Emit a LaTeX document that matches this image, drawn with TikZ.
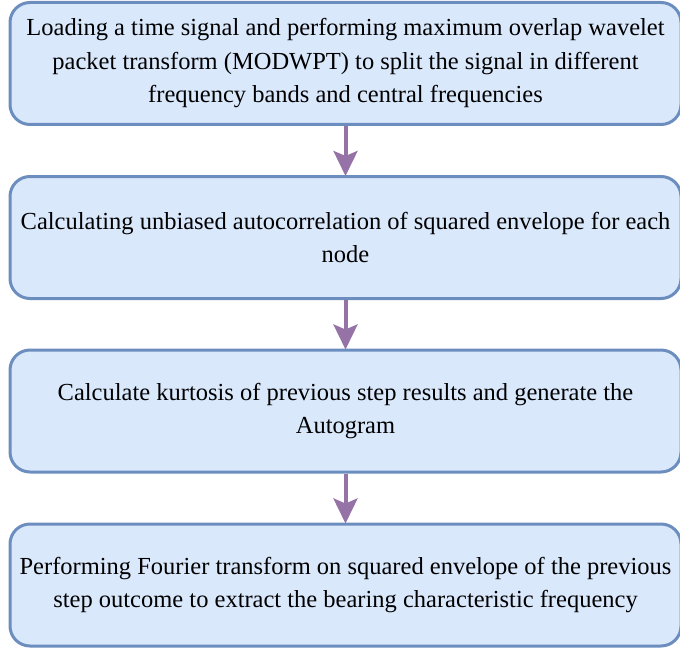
\documentclass[tikz,border=0pt]{standalone}
\usepackage{fontspec}
\setmainfont{Liberation Serif}
\usetikzlibrary{arrows.meta}
\definecolor{boxfill}{HTML}{DAE8FC}
\definecolor{boxline}{HTML}{6C8EBF}
\definecolor{arrowcol}{HTML}{9673A6}
\tikzset{
  stepbox/.style={draw=boxline, fill=boxfill, line width=3pt, rounded corners=20pt,
    minimum width=671pt, minimum height=122pt, align=center, inner sep=0pt,
    font=\fontsize{24.5}{33.5}\selectfont},
  flowarrow/.style={draw=arrowcol, line width=4pt, -{Stealth[length=25pt,width=24pt,inset=5pt]}, shorten >=-1pt}
}
\begin{document}
\begin{tikzpicture}[x=1pt,y=1pt]
\useasboundingbox (0,0) rectangle (680,-650);
\node[stepbox] (b1) at (345.5,-63.5) {Loading a time signal and performing maximum overlap wavelet\\packet transform (MODWPT) to split the signal in different\\frequency bands and central frequencies};
\node[stepbox] (b2) at (345.5,-237.5) {Calculating unbiased autocorrelation of squared envelope for each\\node};
\node[stepbox] (b3) at (345.5,-411) {Calculate kurtosis of previous step results and generate the\\Autogram};
\node[stepbox] (b4) at (345.5,-585) {Performing Fourier transform on squared envelope of the previous\\step outcome to extract the bearing characteristic frequency};
\draw[flowarrow] (b1) -- (b2);
\draw[flowarrow] (b2) -- (b3);
\draw[flowarrow] (b3) -- (b4);
\end{tikzpicture}
\end{document}
